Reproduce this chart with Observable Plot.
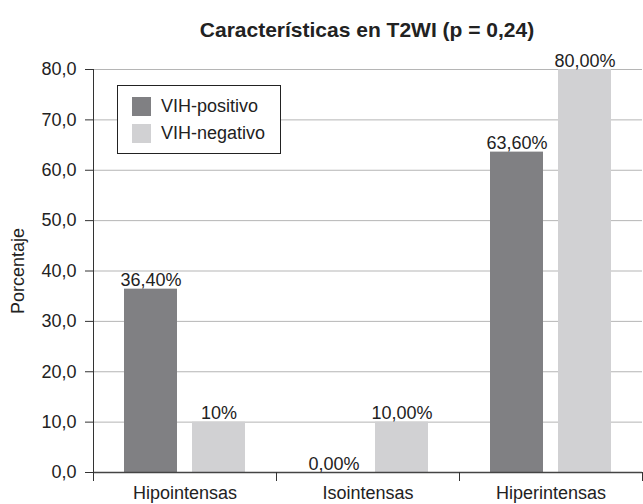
<!DOCTYPE html>
<html>
<head>
<meta charset="utf-8">
<script src="https://cdn.jsdelivr.net/npm/d3@7"></script>
<script src="https://cdn.jsdelivr.net/npm/@observablehq/plot@0.6"></script>
<style>
  html, body { margin: 0; padding: 0; background: #fff; }
  #wrap { position: relative; width: 643px; height: 504px; font-family: "Liberation Sans", Arial, sans-serif; color: #222; }
  #chart { position: absolute; left: 0; top: 0; }
  #title { position: absolute; top: 0; left: 92px; height: 55px; box-sizing: border-box; padding-top: 20px; width: 550px; text-align: center; font-weight: bold; font-size: 21px; line-height: 20px; }
  #legend { position: absolute; left: 117px; top: 85px; width: 164px; height: 69px; box-sizing: border-box; border: 1px solid #222; background: #fff; font-size: 18px; }
  .item { position: absolute; left: 14px; display: flex; align-items: center; }
  .sw { width: 19px; height: 19px; margin-right: 10px; }
</style>
</head>
<body>
<div id="wrap">
  <div id="chart"></div>
  <div id="title">Características en T2WI (p = 0,24)</div>
  <div id="legend"></div>
</div>
<script>
const categories = ["Hipointensas", "Isointensas", "Hiperintensas"];
const series = ["VIH-positivo", "VIH-negativo"];
const colors = ["#808083", "#d1d1d3"];
const positivo = [36.4, 0, 63.6];
const negativo = [10, 10, 80];
const positivoLabels = ["36,40%", "0,00%", "63,60%"];
const negativoLabels = ["10%", "10,00%", "80,00%"];
const yTicks = [0, 10, 20, 30, 40, 50, 60, 70, 80];

const rows = [];
categories.forEach((c, i) => {
  rows.push({cat: c, series: series[0], value: positivo[i], label: positivoLabels[i]});
  rows.push({cat: c, series: series[1], value: negativo[i], label: negativoLabels[i]});
});

const H = 504, MT = 69, MB = 32;
const plotH = H - MT - MB;

const chart = Plot.plot({
  width: 643,
  height: H,
  marginTop: MT,
  marginBottom: MB,
  marginLeft: 92,
  marginRight: 1,
  style: {fontFamily: "'Liberation Sans', Arial, sans-serif", fontSize: "18px", color: "#222", background: "transparent"},
  fx: {domain: categories, padding: 0, label: null, axis: null},
  x: {domain: series, paddingInner: 0.22, paddingOuter: 0.44, axis: null},
  y: {domain: [0, 80], axis: null},
  color: {domain: series, range: colors},
  marks: [
    Plot.gridY(yTicks.filter(d => d > 0), {stroke: "#b5b5b5", strokeOpacity: 1}),
    Plot.barY(rows, {fx: "cat", x: "series", y: "value", fill: "series"}),
    Plot.text(rows, {fx: "cat", x: "series", y: "value", text: "label", lineAnchor: "bottom", dy: -3, fill: "#222"}),
    Plot.ruleY([0], {stroke: "#444", strokeWidth: 1.5}),
    Plot.frame({anchor: "left", facetAnchor: "left", insetBottom: -8, stroke: "#333"}),
    Plot.frame({anchor: "left", insetTop: plotH, insetBottom: -8, stroke: "#333"}),
    Plot.frame({anchor: "right", insetTop: plotH, insetBottom: -8, stroke: "#333"}),
    Plot.axisY(yTicks, {
      tickFormat: d => d.toFixed(1).replace(".", ","),
      tickSize: 8, tickPadding: 9, stroke: "#333", fill: "#222",
      label: "Porcentaje", labelAnchor: "center", labelArrow: "none", labelOffset: 82
    }),
    Plot.axisFx({anchor: "bottom", tickSize: 0, tickPadding: 14, label: null, fill: "#222"})
  ]
});
document.getElementById("chart").appendChild(chart);

const legend = document.getElementById("legend");
series.forEach((s, i) => {
  const item = document.createElement("div");
  item.className = "item";
  item.style.top = (10 + i * 27) + "px";
  const sw = document.createElement("div");
  sw.className = "sw";
  sw.style.background = colors[i];
  const t = document.createElement("span");
  t.textContent = s;
  item.appendChild(sw);
  item.appendChild(t);
  legend.appendChild(item);
});
</script>
</body>
</html>
